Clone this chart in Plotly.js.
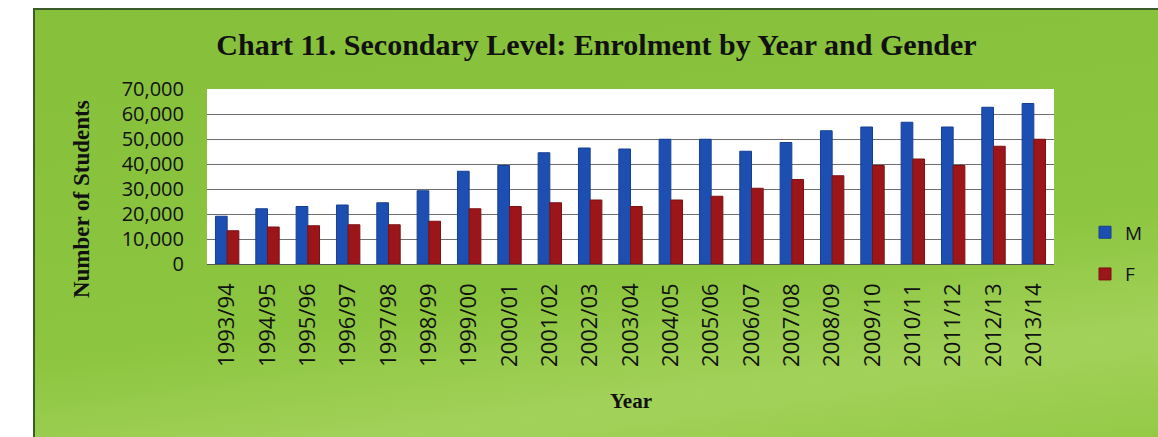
<!DOCTYPE html>
<html>
<head>
<meta charset="utf-8">
<script src="https://cdn.plot.ly/plotly-3.0.1.min.js"></script>
<style>
  html, body { margin: 0; padding: 0; background: #ffffff; width: 1158px; height: 437px; overflow: hidden; }
  #frame {
    position: absolute; left: 33px; top: 8px; width: 1125px; height: 429px;
    background: linear-gradient(172deg, #86c03a 0%, #8cc53f 60%, #a3d25a 82%, #94c946 100%);
    border-left: 2px solid #3d5a2a; border-top: 2px solid #3d5a2a;
    box-sizing: border-box;
  }
  #chart { position: absolute; left: 0; top: 0; width: 1123px; height: 427px; }
</style>
</head>
<body>
<div id="frame"><div id="chart"></div></div>
<script>
const years = ["1993/94","1994/95","1995/96","1996/97","1997/98","1998/99","1999/00","2000/01","2001/02","2002/03","2003/04","2004/05","2005/06","2006/07","2007/08","2008/09","2009/10","2010/11","2011/12","2012/13","2013/14"];
const male = [19100,22100,23000,23600,24500,29300,37100,39400,44500,46400,46000,49900,49900,45100,48600,53300,54800,56700,54800,62700,64200];
const female = [13300,14800,15300,15700,15700,17100,22100,23000,24500,25600,23000,25600,27100,30300,33800,35300,39400,42000,39400,47100,49900];
const yTicks = [0,10000,20000,30000,40000,50000,60000,70000];
const yTickText = ["0","10,000","20,000","30,000","40,000","50,000","60,000","70,000"];

const traces = [
  { type: "bar", name: "M", legendgroup: "m", x: years, y: male, marker: { color: "#1d4fb3", line: { color: "#163f92", width: 1 } } },
  { type: "bar", name: "F", legendgroup: "f", x: years, y: female, marker: { color: "#9c1519", line: { color: "#7d1013", width: 1 } } }
];

const layout = {
  width: 1123, height: 427,
  paper_bgcolor: "rgba(0,0,0,0)",
  plot_bgcolor: "#ffffff",
  margin: { l: 172, r: 104, t: 79, b: 173 },
  barmode: "group",
  bargap: 0.42,
  bargroupgap: 0,
  showlegend: true,
  title: {
    text: "<b>Chart 11. Secondary Level: Enrolment by Year and Gender</b>",
    font: { family: "Liberation Serif", size: 30, color: "#111" },
    x: 0.5, xanchor: "center", xref: "container", y: 0.92, yref: "container", yanchor: "middle"
  },
  legend: {
    xref: "container", yref: "container",
    x: 0.935, y: 0.43, xanchor: "left", yanchor: "middle",
    font: { family: "Open Sans", size: 19, color: "#111" },
    itemwidth: 30, tracegroupgap: 14, bgcolor: "rgba(0,0,0,0)",
    traceorder: "grouped"
  },
  xaxis: {
    type: "category",
    tickangle: -90,
    tickfont: { family: "Open Sans", size: 22, color: "#111" },
    ticklabelstandoff: 14,
    showline: false, ticks: "", automargin: false
  },
  yaxis: {
    range: [0, 70000],
    tickvals: yTicks, ticktext: yTickText,
    tickfont: { family: "Open Sans", size: 20, color: "#111" },
    ticklabelstandoff: 22,
    gridcolor: "#6e6e6e", gridwidth: 1,
    zeroline: true, zerolinecolor: "#555", zerolinewidth: 1,
    showline: false, ticks: "", automargin: false
  },
  annotations: [
    { text: "<b>Year</b>", xref: "paper", yref: "paper", x: 0.5, y: -0.78, xanchor: "center", yanchor: "middle", showarrow: false,
      font: { family: "Liberation Serif", size: 21, color: "#111" } },
    { text: "<b>Number of Students</b>", xref: "paper", yref: "paper", x: -0.149, y: 0.37, xanchor: "center", yanchor: "middle", textangle: -90, showarrow: false,
      font: { family: "Liberation Serif", size: 23, color: "#111" } }
  ]
};

Plotly.newPlot("chart", traces, layout, { displayModeBar: false, staticPlot: true });
</script>
</body>
</html>
